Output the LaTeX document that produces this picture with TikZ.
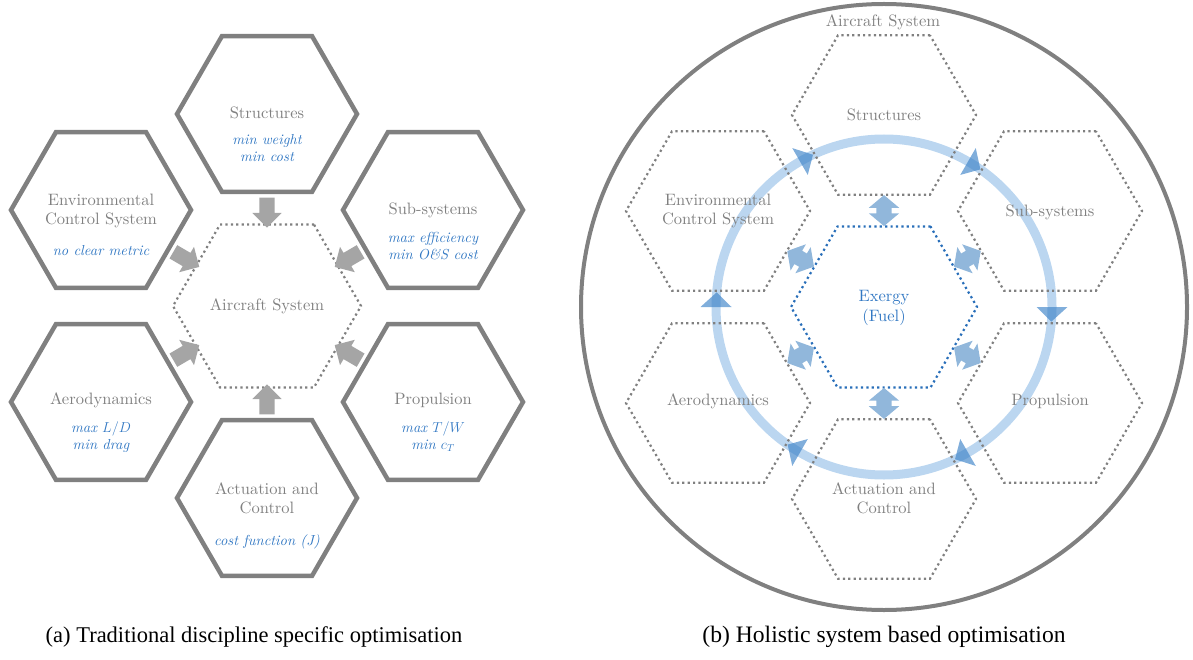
\documentclass[tikz,border=0pt]{standalone}
\usepackage{fontspec}
\setmainfont{lmroman10-regular.otf}[ItalicFont=lmroman10-italic.otf]
\newfontfamily\capfont{Liberation Serif}
\usetikzlibrary{shapes.geometric,shapes.arrows,calc}
\definecolor{hexgray}{RGB}{128,128,128}
\definecolor{arrgray}{RGB}{165,165,165}
\definecolor{txtgray}{RGB}{128,128,128}
\definecolor{txtblue}{RGB}{50,120,195}
\definecolor{dotblue}{RGB}{40,110,185}
\definecolor{ringblue}{RGB}{187,214,240}
\definecolor{arrblue}{RGB}{60,130,200}
\definecolor{dblblue}{RGB}{145,183,219}
\begin{document}
\begin{tikzpicture}[x=1pt,y=-1pt,
  hexbase/.style={regular polygon, regular polygon sides=6, inner sep=0pt},
  hexthick/.style={hexbase, draw=hexgray, line width=4.5pt, minimum size=180pt},
  hexdot/.style={hexbase, draw=hexgray, line width=2.2pt, dash pattern=on 2.2pt off 3.2pt, minimum size=184pt},
  hexblue/.style={hexdot, draw=dotblue, minimum size=186pt},
  ttl/.style={text=txtgray, align=center, font=\fontsize{16.5}{19}\selectfont, inner sep=0pt},
  met/.style={text=txtblue, align=center, font=\fontsize{14.5}{17}\selectfont\itshape, inner sep=0pt},
  exg/.style={text=txtblue, align=center, font=\fontsize{16.5}{20}\selectfont, inner sep=0pt},
  garr/.style={single arrow, fill=arrgray, draw=none, inner xsep=0pt, inner ysep=7.5pt,
    minimum height=30pt, minimum width=0pt, single arrow head extend=7pt,
    sloped, allow upside down},
  barr/.style={double arrow, fill=dblblue, draw=none, inner xsep=0pt, inner ysep=7.5pt,
    minimum height=31pt, minimum width=0pt, double arrow head extend=7.5pt, double arrow tip angle=100,
    sloped, allow upside down},
  ringarr/.style={fill=arrblue, fill opacity=0.65},
  captext/.style={font=\capfont\fontsize{22.5}{27}\selectfont, inner sep=0pt}
]
\useasboundingbox (0,0) rectangle (1193,660);

% ---------------- (a) ----------------
\node[hexdot, minimum size=188pt] (lC) at (267,306) {};
\node[hexthick] (lS) at (267,114) {};
\node[hexthick] (lE) at (101,210) {};
\node[hexthick] (lU) at (433,210) {};
\node[hexthick] (lA) at (101,402) {};
\node[hexthick] (lP) at (433,402) {};
\node[hexthick] (lK) at (267,498) {};

\path (lS.-90) -- node[garr] (la1) {} (lC.90);
\path (lE.-30) -- node[garr] (la2) {} (lC.150);
\path (lU.-150) -- node[garr] (la3) {} (lC.30);
\path (lA.30) -- node[garr] (la4) {} (lC.210);
\path (lP.150) -- node[garr] (la5) {} (lC.-30);
\path (lK.90) -- node[garr] (la6) {} (lC.-90);

\node[ttl] (lCt) at (267,306) {Aircraft System};
\node[ttl] (lSt) at (267,113) {Structures};
\node[met] (lSm) at (267,148) {min weight\\min cost};
\node[ttl] (lEt) at (101,211) {Environmental\\Control System};
\node[met] (lEm) at (101,251) {no clear metric};
\node[ttl] (lUt) at (433,210) {Sub-systems};
\node[met] (lUm) at (433,246) {max efficiency\\min O\&S cost};
\node[ttl] (lAt) at (101,400) {Aerodynamics};
\node[met] (lAm) at (101,437) {max $L/D$\\min drag};
\node[ttl] (lPt) at (433,400) {Propulsion};
\node[met] (lPm) at (433,437) {max $T/W$\\min $c_T$};
\node[ttl] (lKt) at (267,498) {Actuation and\\Control};
\node[met] (lKm) at (267,542) {cost function (J)};

\node[captext] (capa) at (254,637) {(a) Traditional discipline specific optimisation};

% ---------------- (b) ----------------
\node[circle, draw=hexgray, line width=4pt, minimum size=606pt, inner sep=0pt] (sys) at (884,307) {};
\node[ttl] (syst) at (883,22) {Aircraft System};

\node[circle, draw=ringblue, line width=9pt, minimum size=336pt, inner sep=0pt] (ring) at (884,307) {};
\foreach \a in {0,60,...,300}
  \fill[ringarr] ($(ring.center)+(\a:152.5)$) -- ($(ring.center)+(\a:183.5)$) -- ($(ring.center)+(\a+5:168)$) -- cycle;

\node[hexblue] (rC) at (884,307) {};
\node[hexdot] (rS) at (884,115) {};
\node[hexdot] (rE) at (718,211) {};
\node[hexdot] (rU) at (1050,211) {};
\node[hexdot] (rA) at (718,403) {};
\node[hexdot] (rP) at (1050,403) {};
\node[hexdot] (rK) at (884,499) {};

\path (rS.-90) -- node[barr] (rb1) {} (rC.90);
\path (rE.-30) -- node[barr] (rb2) {} (rC.150);
\path (rU.-150) -- node[barr] (rb3) {} (rC.30);
\path (rA.30) -- node[barr] (rb4) {} (rC.210);
\path (rP.150) -- node[barr] (rb5) {} (rC.-30);
\path (rK.90) -- node[barr] (rb6) {} (rC.-90);

\node[exg] (rCt) at (884,308) {Exergy\\(Fuel)};
\node[ttl] (rSt) at (884,115) {Structures};
\node[ttl] (rEt) at (718,211) {Environmental\\Control System};
\node[ttl] (rUt) at (1050,212) {Sub-systems};
\node[ttl] (rAt) at (718,401) {Aerodynamics};
\node[ttl] (rPt) at (1050,401) {Propulsion};
\node[ttl] (rKt) at (884,498) {Actuation and\\Control};

\node[captext, font=\capfont\fontsize{23.6}{28}\selectfont] (capb) at (884,637) {(b) Holistic system based optimisation};
\end{tikzpicture}
\end{document}
